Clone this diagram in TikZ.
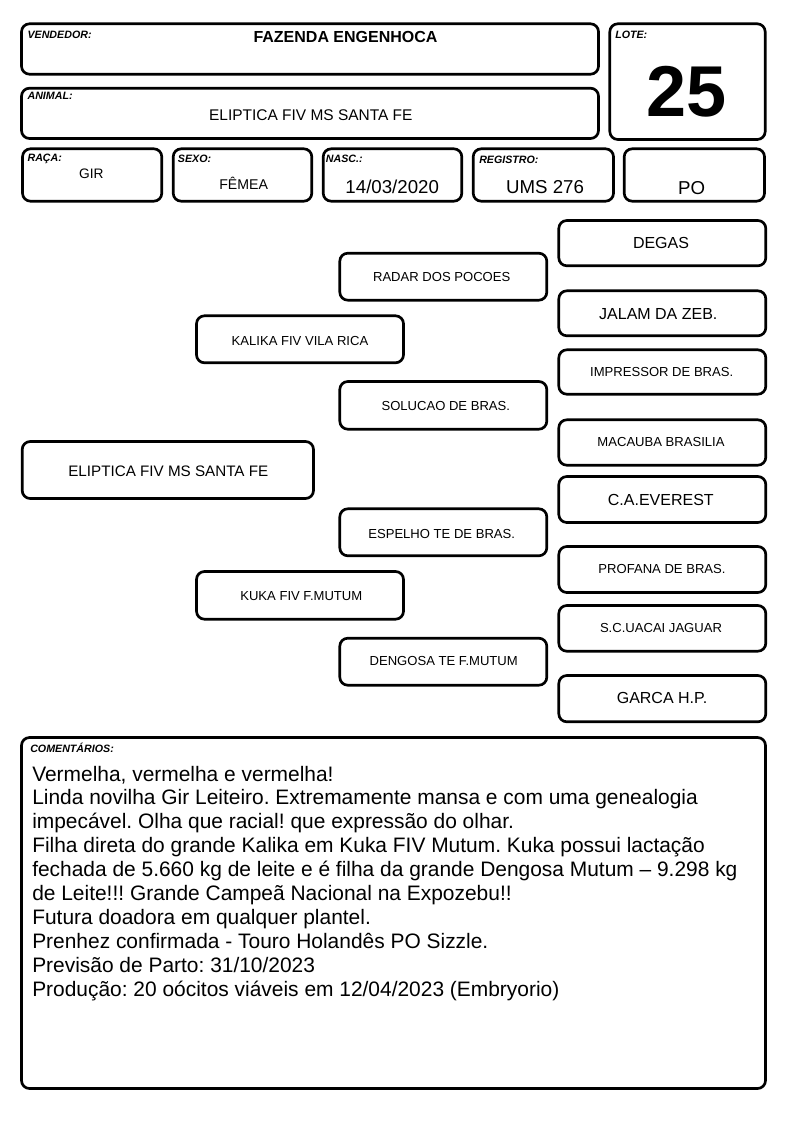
\documentclass[tikz,border=0pt]{standalone}
\usepackage{fontspec}
\setmainfont{Liberation Sans}
\frenchspacing
\newcommand\myfs[1]{\fontsize{#1}{#1}\selectfont}
\begin{document}
\begin{tikzpicture}[x=0.75pt,y=-0.75pt,
  box/.style={draw=black,line width=2pt,rounded corners=6pt},
  lbl/.style={anchor=base west,inner sep=0pt,font=\myfs{8}\bfseries\itshape},
  val/.style={anchor=base,inner sep=0pt},
  ped/.style={anchor=base,inner sep=0pt,font=\myfs{9.8}},
  pedb/.style={anchor=base,inner sep=0pt,font=\myfs{12}},
  cmt/.style={anchor=base west,inner sep=0pt,font=\myfs{15.7}\frenchspacing}]
\useasboundingbox (0,0) rectangle (794,1123);
% header boxes
\draw[box] (21.5,23.8) rectangle (598.5,74.2);
\draw[box] (21.5,88.2) rectangle (598.5,138.5);
\draw[box] (609.8,23.8) rectangle (765.2,139.5);
\draw[box] (22.5,148.8) rectangle (161.8,201.2);
\draw[box] (173.2,148.8) rectangle (311.8,201.2);
\draw[box] (323.2,148.8) rectangle (461.8,201.2);
\draw[box] (473.2,148.8) rectangle (613.5,201.2);
\draw[box] (624.2,148.8) rectangle (764.5,201.2);
% labels
\node[lbl] (lv) at (27.3,38.5) {VENDEDOR:};
\node[lbl] (la) at (27.3,100) {ANIMAL:};
\node[lbl] (ll) at (615,38.5) {LOTE:};
\node[lbl] (lr) at (27.3,162) {RAÇA:};
\node[lbl] (ls) at (177.7,163) {SEXO:};
\node[lbl] (ln) at (325.7,163) {NASC.:};
\node[lbl] (lg) at (479,164) {REGISTRO:};
% values
\node[val,font=\myfs{12}\bfseries] (vv) at (345.5,43) {FAZENDA ENGENHOCA};
\node[val,font=\myfs{11.6}] (va) at (310.8,121) {ELIPTICA FIV MS SANTA FE};
\node[val,font=\myfs{54}\bfseries] (vl) at (686.7,116.7) {25};
\node[val,font=\myfs{10.3}] (vr) at (91.3,178.3) {GIR};
\node[val,font=\myfs{10.6}] (vs) at (243.7,190) {FÊMEA};
\node[val,font=\myfs{14}] (vn) at (392.2,193.3) {14/03/2020};
\node[val,font=\myfs{14}] (vg) at (545,193.3) {UMS 276};
\node[val,font=\myfs{14}] (vp) at (691.7,195) {PO};
% pedigree boxes
\draw[box] (558.8,220.5) rectangle (765.8,265.8);
\draw[box] (339.8,253.2) rectangle (546.8,300.2);
\draw[box] (558.8,290.8) rectangle (765.8,335.8);
\draw[box] (196.5,315.8) rectangle (403.5,362.8);
\draw[box] (558.8,349.8) rectangle (765.8,394.2);
\draw[box] (339.8,381.5) rectangle (546.8,429.2);
\draw[box] (558.8,419.8) rectangle (765.8,465.2);
\draw[box] (22.2,441.5) rectangle (313.5,498.5);
\draw[box] (558.8,476.5) rectangle (765.8,522.5);
\draw[box] (339.8,508.8) rectangle (546.8,555.8);
\draw[box] (558.8,546.5) rectangle (765.8,592.5);
\draw[box] (196.5,571.5) rectangle (403.5,619.2);
\draw[box] (558.8,605.5) rectangle (765.8,651.2);
\draw[box] (339.8,638.2) rectangle (546.8,685.2);
\draw[box] (558.8,675.5) rectangle (765.8,721.8);
% pedigree names
\node[pedb] (p1) at (661,248.3) {DEGAS};
\node[ped] (p2) at (441.7,281.5) {RADAR DOS POCOES};
\node[pedb] (p3) at (658.3,319.5) {JALAM DA ZEB.};
\node[ped] (p4) at (300,345.7) {KALIKA FIV VILA RICA};
\node[ped] (p5) at (661.7,376.7) {IMPRESSOR DE BRAS.};
\node[ped] (p6) at (445.8,410.5) {SOLUCAO DE BRAS.};
\node[ped] (p7) at (661,446.7) {MACAUBA BRASILIA};
\node[anchor=base,inner sep=0pt,font=\myfs{11.4}] (p8) at (168.3,476.7) {ELIPTICA FIV MS SANTA FE};
\node[pedb] (p9) at (660.8,505) {C.A.EVEREST};
\node[ped] (p10) at (441.7,538.3) {ESPELHO TE DE BRAS.};
\node[ped] (p11) at (662,573.3) {PROFANA DE BRAS.};
\node[ped] (p12) at (301.3,600.7) {KUKA FIV F.MUTUM};
\node[ped] (p13) at (661,632.7) {S.C.UACAI JAGUAR};
\node[ped] (p14) at (443.7,665.7) {DENGOSA TE F.MUTUM};
\node[pedb] (p15) at (662,703.3) {GARCA H.P.};
% comments
\draw[box] (21.5,737.5) rectangle (765.5,1088.5);
\node[lbl] (lc) at (30,752) {COMENTÁRIOS:};
\node[cmt] (c1) at (32,781) {Vermelha, vermelha e vermelha!};
\node[cmt] (c2) at (32,804.9) {Linda novilha Gir Leiteiro. Extremamente mansa e com uma genealogia};
\node[cmt] (c3) at (32,828.8) {impecável. Olha que racial! que expressão do olhar.};
\node[cmt] (c4) at (32,852.7) {Filha direta do grande Kalika em Kuka FIV Mutum. Kuka possui lactação};
\node[cmt] (c5) at (32,876.6) {fechada de 5.660 kg de leite e é filha da grande Dengosa Mutum – 9.298 kg};
\node[cmt] (c6) at (32,900.5) {de Leite!!! Grande Campeã Nacional na Expozebu!!};
\node[cmt] (c7) at (32,924.4) {Futura doadora em qualquer plantel.};
\node[cmt] (c8) at (32,948.3) {Prenhez confirmada - Touro Holandês PO Sizzle.};
\node[cmt] (c9) at (32,972.2) {Previsão de Parto: 31/10/2023};
\node[cmt] (c10) at (32,996.1) {Produção: 20 oócitos viáveis em 12/04/2023 (Embryorio)};
\end{tikzpicture}
\end{document}
